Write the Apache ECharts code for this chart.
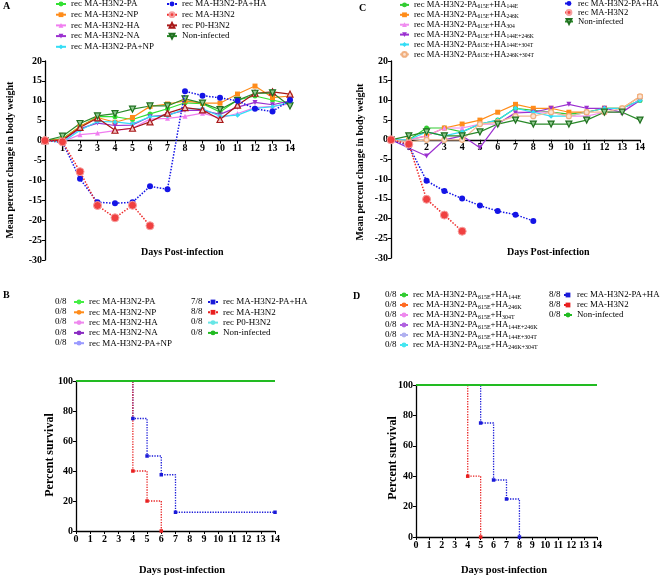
<!DOCTYPE html>
<html><head><meta charset="utf-8">
<script src="https://cdn.jsdelivr.net/npm/echarts/dist/echarts.min.js"></script>
<style>html,body{margin:0;padding:0;background:#fff}#c{width:660px;height:576px}</style>
</head><body><div id="c"></div>
<script>
// ---------- DATA ----------
const days = [0,1,2,3,4,5,6,7,8,9,10,11,12,13,14];
// Panel A: mean percent change in body weight
const aPA      = [0,0.5,3.5,6.0,6.0,5.3,6.7,8.0,9.5,9.3,7.2,10.2,11.2,10.2,9.2];
const aNP      = [0,0.3,3.6,5.8,4.6,5.8,8.6,9.2,10.0,9.4,9.4,11.7,13.7,10.8,11.2];
const aHA      = [0,-0.3,1.5,1.9,2.5,3.1,5.4,5.6,6.1,6.9,5.7,6.8,8.3,8.6,9.2];
const aNA      = [0,0,3.0,4.4,3.8,3.9,6.0,6.5,7.6,7.6,6.6,8.4,9.6,9.0,10.0];
const aPANP    = [0,-0.4,2.6,4.8,4.7,4.2,6.0,6.2,8.0,8.0,6.1,6.4,8.1,8.5,9.6];
const aPAHA    = [0,-0.4,-9.6,-15.5,-15.75,-15.5,-11.5,-12.2,12.4,11.3,10.75,10.0,8.0,7.3,10.2];
const aMAx     = [0,1,2,3,4,5,6];
const aMA      = [0,-0.3,-7.8,-16.3,-19.4,-16.25,-21.4];
const aP0      = [0,0.1,3.3,5.7,2.6,3.1,4.7,6.9,8.3,7.7,5.3,8.9,11.9,12.25,11.7];
const aNon     = [0,1.1,4.3,6.2,6.8,7.9,8.7,8.7,10.5,9.4,7.8,10.1,11.9,12.0,8.7];
// Panel C
const c144E    = [0,0,3,3,2,4,5,8,7.5,7,6.5,7,8,8,10];
const c246K    = [0,0,1,3,4,5,7,9,8,8,7,7,8,8,11];
const c304     = [0,0,1,3,3,4,4,7,7,7,6,6,7,7,10.5];
const c144E246K= [0,-2.1,-4.1,0,1,-2,4.1,6.8,7,8,9,8,8,7,10];
const c144E304T= [0,0,2,1,2,4,5,8,7,6,6,7,8,8,10];
const c246K304T= [0,-0.5,0,0,0,4,4.5,6,6,7,6,7,7,8,11];
const cPAHAx   = [0,1,2,3,4,5,6,7,8];
const cPAHA    = [0,-1.5,-10.4,-13,-14.9,-16.7,-18.1,-19,-20.6];
const cMAx     = [0,1,2,3,4];
const cMA      = [0,-1.1,-15.1,-19.1,-23.2];
const cNon     = [0,1,2,1,1,2,4,5,4,4,4,5,7,7,5];
// Panel B: percent survival
const flatX    = [0,14];
const flat100  = [100,100];
const bPAHAx   = [0,4,5,6,7,14];
const bPAHA    = [100,75,50,37.5,12.5,12.5];
const bMAx     = [0,4,5,6];
const bMA      = [100,40,20,0];
const bFracL   = ['0/8','0/8','0/8','0/8','0/8'];
const bFracR   = ['7/8','8/8','0/8','0/8'];
// Panel D
const dPAHAx   = [0,5,6,7,8];
const dPAHA    = [100,75,37.5,25,0];
const dMAx     = [0,4,5];
const dMA      = [100,40,0];
const dFracL   = ['0/8','0/8','0/8','0/8','0/8','0/8'];
const dFracR   = ['8/8','8/8','0/8'];

// ---------- CHART ----------
const FONT = '"Liberation Serif","Times New Roman",serif';
const pairs = (xs, ys) => xs.map((x,i)=>[x, ys[i]]);
const stepData = (xs, ys) => xs.map((x,i)=> i===0 ? {value:[x,ys[i]], symbol:'none'} : [x, ys[i]]);

function lineSeries(panel, gi, name, xs, ys, color, symbol, size, opts) {
  opts = opts || {};
  return {
    type:'line', name: panel+'|'+name, xAxisIndex: gi, yAxisIndex: gi,
    data: opts.step ? stepData(xs, ys) : pairs(xs, ys),
    step: opts.step ? 'end' : false,
    symbol: symbol || 'none', symbolSize: size || 5, symbolRotate: opts.rot || 0,
    showSymbol: symbol !== 'none',
    lineStyle: {color: color, width: opts.w || 1.2, type: opts.dotted ? 'dotted' : 'solid'},
    itemStyle: {color: opts.fill || color, borderColor: opts.border || color, borderWidth: opts.bw || 0},
    z: opts.z || 2, animation:false, silent:true
  };
}

const series = [
  // A
  lineSeries('A',0,'rec MA-H3N2-PA',days,aPA,'#33e033','circle',5),
  lineSeries('A',0,'rec MA-H3N2-NP',days,aNP,'#ff8c1a','rect',5),
  lineSeries('A',0,'rec MA-H3N2-HA',days,aHA,'#f07df0','triangle',5),
  lineSeries('A',0,'rec MA-H3N2-NA',days,aNA,'#9b30d0','triangle',5,{rot:180}),
  lineSeries('A',0,'rec MA-H3N2-PA+NP',days,aPANP,'#33ddf5','diamond',5),
  lineSeries('A',0,'rec P0-H3N2',days,aP0,'#a81818','triangle',6,{fill:'#f3c6c6',border:'#a81818',bw:1.2}),
  lineSeries('A',0,'Non-infected',days,aNon,'#2a8a2a','triangle',6,{rot:180,fill:'#8fc98f',border:'#1f6f1f',bw:1.2}),
  lineSeries('A',0,'rec MA-H3N2-PA+HA',days,aPAHA,'#1414e6','circle',6,{dotted:true,w:1.5,z:3}),
  lineSeries('A',0,'rec MA-H3N2',aMAx,aMA,'#ee2a2a','circle',8,{dotted:true,w:1.5,fill:'#f04040',border:'#f7a0a0',bw:1,z:3}),
  // B
  lineSeries('B',1,'rec MA-H3N2-NP',flatX,flat100,'#ff8c1a','none',0,{w:2}),
  lineSeries('B',1,'rec MA-H3N2-HA',flatX,flat100,'#ee88ee','none',0,{w:2}),
  lineSeries('B',1,'rec MA-H3N2-NA',flatX,flat100,'#8a2bc2','none',0,{w:2}),
  lineSeries('B',1,'rec MA-H3N2-PA+NP',flatX,flat100,'#9a9aff','none',0,{w:2}),
  lineSeries('B',1,'rec P0-H3N2',flatX,flat100,'#66e6e6','none',0,{w:2}),
  lineSeries('B',1,'rec MA-H3N2-PA',flatX,flat100,'#44ee44','none',0,{w:2}),
  lineSeries('B',1,'Non-infected',flatX,flat100,'#22bb22','none',0,{w:2,z:4}),
  lineSeries('B',1,'rec MA-H3N2-PA+HA',bPAHAx,bPAHA,'#1a1ad8','rect',3.5,{dotted:true,w:1.3,step:true,z:3}),
  lineSeries('B',1,'rec MA-H3N2',bMAx,bMA,'#e82020','rect',3.5,{dotted:true,w:1.3,step:true,z:3}),
  // C
  lineSeries('C',2,'rec MA-H3N2-PA_615E_+HA_144E_',days,c144E,'#33cc33','circle',5),
  lineSeries('C',2,'rec MA-H3N2-PA_615E_+HA_246K_',days,c246K,'#ff8c1a','rect',5),
  lineSeries('C',2,'rec MA-H3N2-PA_615E_+HA_304_',days,c304,'#f08cf0','triangle',5),
  lineSeries('C',2,'rec MA-H3N2-PA_615E_+HA_144E+246K_',days,c144E246K,'#9b30d0','triangle',5,{rot:180}),
  lineSeries('C',2,'rec MA-H3N2-PA_615E_+HA_144E+304T_',days,c144E304T,'#33ddf5','diamond',5),
  lineSeries('C',2,'rec MA-H3N2-PA_615E_+HA_246K+304T_',days,c246K304T,'#f2bc94','circle',5,{fill:'#fbe3d2',border:'#f0b080',bw:1.2}),
  lineSeries('C',2,'Non-infected',days,cNon,'#2a8a2a','triangle',6,{rot:180,fill:'#8fc98f',border:'#1f6f1f',bw:1.2}),
  lineSeries('C',2,'rec MA-H3N2-PA+HA',cPAHAx,cPAHA,'#1414e6','circle',6,{dotted:true,w:1.5,z:3}),
  lineSeries('C',2,'rec MA-H3N2',cMAx,cMA,'#ee2a2a','circle',8,{dotted:true,w:1.5,fill:'#f04040',border:'#f7a0a0',bw:1,z:3}),
  // D
  lineSeries('D',3,'rec MA-H3N2-PA_615E_+HA_144E_',flatX,flat100,'#33cc33','none',0,{w:2}),
  lineSeries('D',3,'rec MA-H3N2-PA_615E_+HA_246K_',flatX,flat100,'#ff6a22','none',0,{w:2}),
  lineSeries('D',3,'rec MA-H3N2-PA_615E_+H_304T_',flatX,flat100,'#ee88ee','none',0,{w:2}),
  lineSeries('D',3,'rec MA-H3N2-PA_615E_+HA_144E+246K_',flatX,flat100,'#b060e0','none',0,{w:2}),
  lineSeries('D',3,'rec MA-H3N2-PA_615E_+HA_144E+304T_',flatX,flat100,'#b0b0f0','none',0,{w:2}),
  lineSeries('D',3,'rec MA-H3N2-PA_615E_+HA_246K+304T_',flatX,flat100,'#44e6f0','none',0,{w:2}),
  lineSeries('D',3,'Non-infected',flatX,flat100,'#22bb22','none',0,{w:2,z:4}),
  lineSeries('D',3,'rec MA-H3N2-PA+HA',dPAHAx,dPAHA,'#1a1ad8','rect',3.5,{dotted:true,w:1.3,step:true,z:3}),
  lineSeries('D',3,'rec MA-H3N2',dMAx,dMA,'#e82020','rect',3.5,{dotted:true,w:1.3,step:true,z:3})
];

const axisFont = {fontFamily:FONT, fontWeight:'bold', fontSize:10, color:'#000'};
// off: shift of x axis from grid bottom up to the y=0 line (negative offset)
function xAx(gi, hideZero, off){
  return {type:'value', gridIndex:gi, min:0, max:14, interval:1, position:'bottom', offset: off || 0,
    axisLine:{onZero:false, lineStyle:{color:'#000', width:1.3}},
    axisTick:{show:true, length:3, lineStyle:{color:'#000'}},
    axisLabel: Object.assign({margin:3, formatter: v => (hideZero && v===0) ? '' : String(v)}, axisFont),
    splitLine:{show:false}};
}
function yAx(gi, min, max, iv){
  return {type:'value', gridIndex:gi, min:min, max:max, interval:iv,
    axisLine:{show:true, onZero:false, lineStyle:{color:'#000', width:1.3}},
    axisTick:{show:true, length:3, lineStyle:{color:'#000'}},
    axisLabel: Object.assign({margin:3}, axisFont),
    splitLine:{show:false}};
}

function legText(fs, lh, sfs){
  return {fontFamily:FONT, fontSize:fs, color:'#000', lineHeight:lh,
    rich:{s:{fontFamily:FONT, fontSize:sfs, color:'#000', lineHeight:sfs, verticalAlign:'bottom', padding:[lh-sfs,0,0,0]}}};
}
const fmt = n => n.split('|')[1].replace(/_([^_]+)_/g, '{s|$1}');
function leg(panel, names, left, top, iw, gap, ts){
  return {orient:'vertical', left:left, top:top, itemWidth:iw, itemHeight:6, itemGap:gap,
    padding:0, selectedMode:false, data: names.map(n => panel+'|'+n),
    formatter: fmt, textStyle: ts};
}
const tsA = legText(9, 10, 6), tsC = legText(8.6, 9, 5.6), tsD = legText(8.8, 10, 6);

const legends = [
  leg('A',['rec MA-H3N2-PA','rec MA-H3N2-NP','rec MA-H3N2-HA','rec MA-H3N2-NA','rec MA-H3N2-PA+NP'],55,-1,10,0.7,tsA),
  leg('A',['rec MA-H3N2-PA+HA','rec MA-H3N2','rec P0-H3N2','Non-infected'],166,-1,10,0.7,tsA),
  leg('B',['rec MA-H3N2-PA','rec MA-H3N2-NP','rec MA-H3N2-HA','rec MA-H3N2-NA','rec MA-H3N2-PA+NP'],73,297,10,0.3,tsA),
  leg('B',['rec MA-H3N2-PA+HA','rec MA-H3N2','rec P0-H3N2','Non-infected'],207,297,10,0.3,tsA),
  leg('C',['rec MA-H3N2-PA_615E_+HA_144E_','rec MA-H3N2-PA_615E_+HA_246K_','rec MA-H3N2-PA_615E_+HA_304_','rec MA-H3N2-PA_615E_+HA_144E+246K_','rec MA-H3N2-PA_615E_+HA_144E+304T_','rec MA-H3N2-PA_615E_+HA_246K+304T_'],399,0,9,0.5,tsC),
  leg('C',['rec MA-H3N2-PA+HA','rec MA-H3N2','Non-infected'],564,-1,8,0,tsC),
  leg('D',['rec MA-H3N2-PA_615E_+HA_144E_','rec MA-H3N2-PA_615E_+HA_246K_','rec MA-H3N2-PA_615E_+H_304T_','rec MA-H3N2-PA_615E_+HA_144E+246K_','rec MA-H3N2-PA_615E_+HA_144E+304T_','rec MA-H3N2-PA_615E_+HA_246K+304T_'],399,290,8,0,tsD),
  leg('D',['rec MA-H3N2-PA+HA','rec MA-H3N2','Non-infected'],563,290,8,0,tsD)
];

const txt = (x, y, s, o) => ({type:'text', left:x, top:y, silent:true,
  style: Object.assign({text:s, fontFamily:FONT, fontSize:9, fill:'#000'}, o||{})});
const vtxt = (x, y, s, fs) => ({type:'text', x:x, y:y, rotation:Math.PI/2, silent:true,
  style:{text:s, fontFamily:FONT, fontWeight:'bold', fontSize:fs, fill:'#000', align:'center', verticalAlign:'middle'}});
const graphics = [
  txt(3,1,'A',{fontWeight:'bold',fontSize:10}),
  txt(3,290,'B',{fontWeight:'bold',fontSize:10}),
  txt(359,3,'C',{fontWeight:'bold',fontSize:10}),
  txt(353,291,'D',{fontWeight:'bold',fontSize:10}),
  txt(141,247,'Days Post-infection',{fontWeight:'bold',fontSize:10}),
  txt(507,247,'Days Post-infection',{fontWeight:'bold',fontSize:10}),
  txt(139,565,'Days post-infection',{fontWeight:'bold',fontSize:10.5}),
  txt(461,565,'Days post-infection',{fontWeight:'bold',fontSize:10.5}),
  vtxt(10,160,'Mean percent change in body weight',10),
  vtxt(360,162,'Mean percent change in body weight',10),
  vtxt(50,455,'Percent survival',12),
  vtxt(393,458,'Percent survival',12)
];
bFracL.forEach((f,i)=>graphics.push(txt(55, 297+i*10.3, f)));
bFracR.forEach((f,i)=>graphics.push(txt(191, 297+i*10.3, f)));
dFracL.forEach((f,i)=>graphics.push(txt(385, 290+i*10, f)));
dFracR.forEach((f,i)=>graphics.push(txt(549, 290+i*10, f)));

const gA = {left:45, top:61, width:245, height:199};
const gC = {left:391, top:61, width:249, height:197};
const chart = echarts.init(document.getElementById('c'));
chart.setOption({
  animation:false,
  backgroundColor:'#fff',
  grid:[
    gA,
    {left:76, top:381, width:199, height:150},
    gC,
    {left:416, top:385, width:181, height:152}
  ],
  xAxis:[xAx(0,true,-gA.height*30/50), xAx(1,false,0), xAx(2,true,-gC.height*30/50), xAx(3,false,0)],
  yAxis:[yAx(0,-30,20,5), yAx(1,0,100,20), yAx(2,-30,20,5), yAx(3,0,100,20)],
  legend: legends,
  graphic: graphics,
  series: series
});
</script></body></html>
